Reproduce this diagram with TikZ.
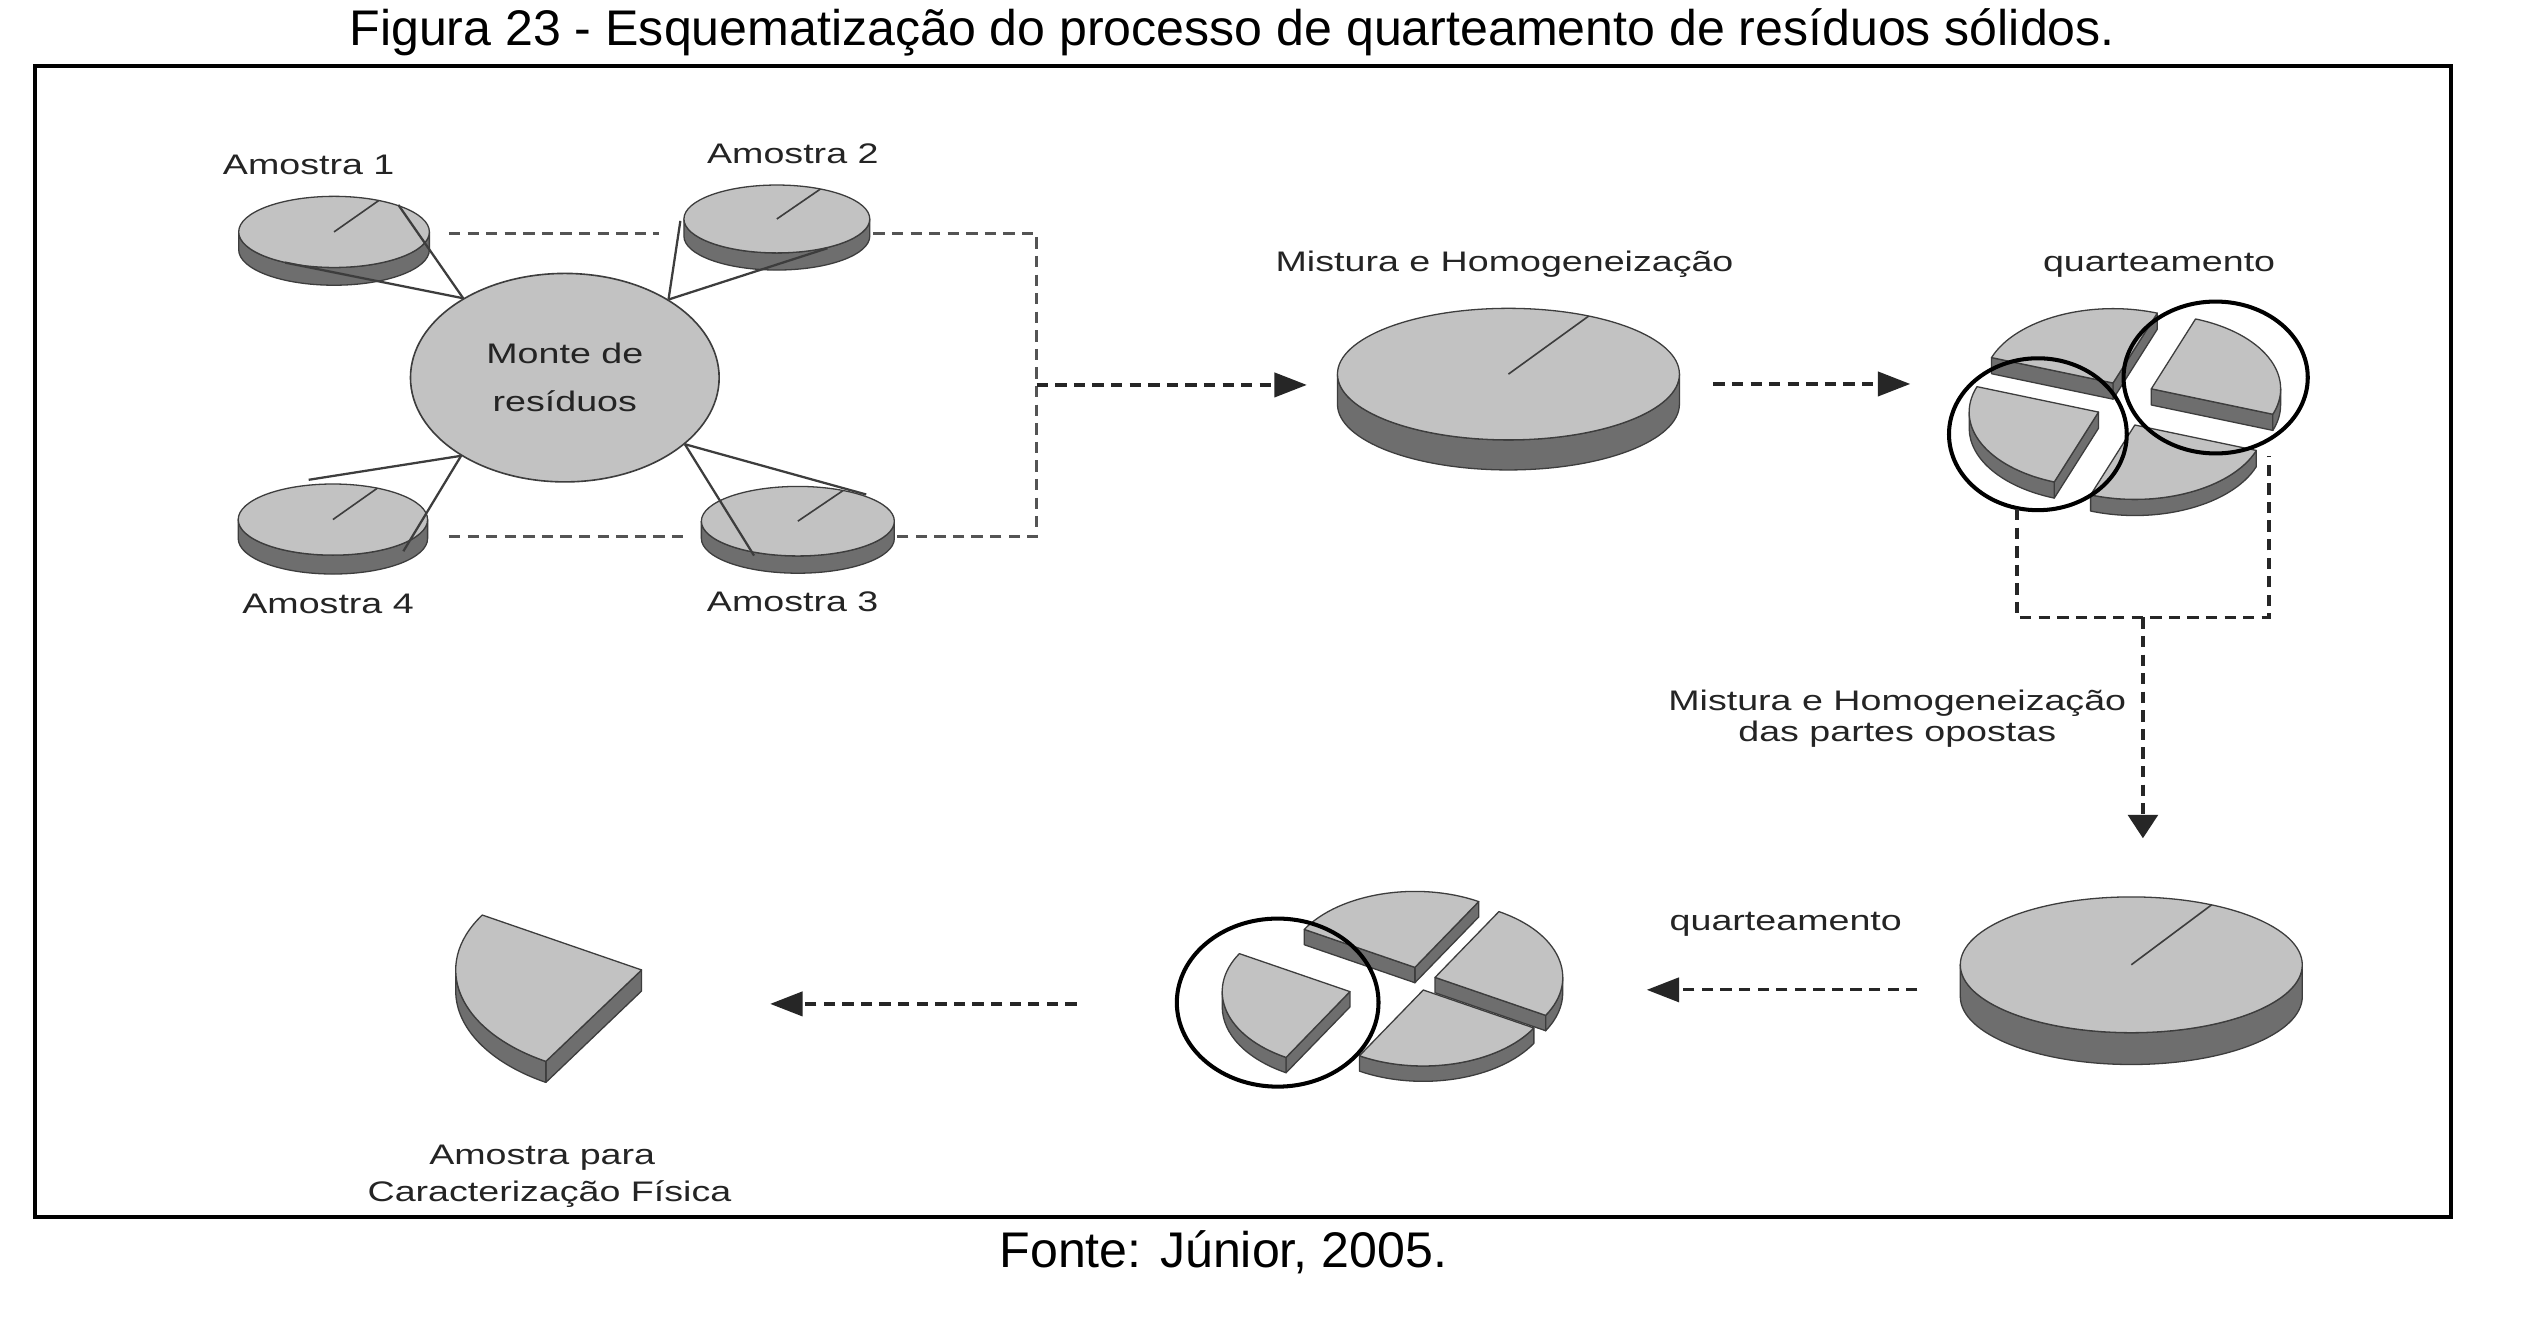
\documentclass[tikz,border=0pt]{standalone}
\usepackage{fontspec}
\setmainfont{Liberation Sans}
\newfontfamily\lblfont[FakeStretch=1.33]{Liberation Sans}
\usetikzlibrary{shapes.geometric,arrows.meta}
\definecolor{topc}{gray}{0.76}
\definecolor{sidec}{gray}{0.43}
\definecolor{edgec}{gray}{0.24}
\definecolor{txtc}{gray}{0.14}
\definecolor{dashc}{gray}{0.15}
\definecolor{dashg}{gray}{0.33}
% full disc: name, cx, cy, rx, ry, h
\newcommand\pdisc[6]{%
  \filldraw[sideface] ({#2-#4},#3) -- ({#2-#4},{#3-#6})
     arc[start angle=180,end angle=360,x radius=#4pt,y radius=#5pt]
     -- ({#2+#4},#3)
     arc[start angle=0,end angle=-180,x radius=#4pt,y radius=#5pt] -- cycle;
  \filldraw[topface] (#2,#3) ellipse[x radius=#4pt,y radius=#5pt];
  \coordinate (#1) at (#2,#3);
  \draw[radline] (#1) -- ++(62:#4pt and #5pt);
}
% slice top: cx cy rx ry a1 a2
\newcommand\slicetop[6]{%
  \filldraw[topface] (#1,#2) -- ({#1+#3*cos(#5)},{#2+#4*sin(#5)})
    arc[start angle=#5,end angle=#6,x radius=#3pt,y radius=#4pt] -- cycle;}
% radial side face: cx cy rx ry h a
\newcommand\sface[6]{%
  \filldraw[sideface] (#1,#2) -- ({#1+#3*cos(#6)},{#2+#4*sin(#6)})
    -- ({#1+#3*cos(#6)},{#2+#4*sin(#6)-#5}) -- (#1,{#2-#5}) -- cycle;}
% rim band: cx cy rx ry h t1 t2
\newcommand\sband[7]{%
  \filldraw[sideface] ({#1+#3*cos(#6)},{#2+#4*sin(#6)})
    arc[start angle=#6,end angle=#7,x radius=#3pt,y radius=#4pt] -- ++(0,-#5)
    arc[start angle=#7,end angle=#6,x radius=#3pt,y radius=#4pt] -- cycle;}
\begin{document}
\begin{tikzpicture}[x=1pt,y=1pt,
  topface/.style={fill=topc,draw=edgec,line width=0.8pt,line join=round},
  sideface/.style={fill=sidec,draw=edgec,line width=0.8pt,line join=round},
  radline/.style={draw=edgec,line width=1pt},
  spoke/.style={draw=edgec,line width=1.4pt},
  dashline/.style={draw=dashc,line width=2pt,dash pattern=on 7pt off 4.5pt},
  grayline/.style={dashline,draw=dashg},
  harrow/.style={dashline,-{Triangle[length=20pt,width=15pt]}},
  varrow/.style={dashline,-{Triangle[length=14.5pt,width=18.5pt]}},
  ring/.style={draw=black,line width=2.5pt},
  lbl/.style={font=\lblfont\fontsize{17.5}{21}\selectfont,text=txtc,inner sep=0pt},
  big/.style={font=\fontsize{31}{36}\selectfont,text=black,inner sep=0pt}
]
\useasboundingbox (0,0) rectangle (1568,830);
\fill[white] (0,0) rectangle (1568,830);

% title, frame, source
\node[big,anchor=base] (title) at (762.5,802) {Figura 23 - Esquematização do processo de quarteamento de resíduos sólidos.};
\draw[line width=2.4pt] (21.7,77) rectangle (1516.5,789);
\node[big,anchor=base] (fonte) at (757,46) {Fonte: Júnior, 2005.};

% samples
\pdisc{d1}{206.7}{686.5}{59}{22}{11}
\pdisc{d2}{480.7}{694.5}{57.5}{21}{10.6}
\pdisc{d4}{206}{508.5}{58.6}{22}{11.7}
\pdisc{d3}{493.7}{507.5}{59.7}{21.5}{10.7}

\node[ellipse,fill=topc,draw=edgec,line width=1pt,minimum width=191pt,minimum height=129pt,
      inner sep=0pt,align=center,text=txtc,font=\lblfont\fontsize{17.5}{29.5}\selectfont]
      (monte) at (349.5,596.3) {Monte de\\resíduos};

\coordinate (d1a) at (246.5,703.2); \coordinate (d1b) at (176.4,667.5);
\coordinate (d2a) at (421,693.3);   \coordinate (d2b) at (512,676.4);
\coordinate (d4a) at (191,533.1);   \coordinate (d4b) at (249.6,488.9);
\coordinate (d3a) at (536,524);     \coordinate (d3b) at (466.6,486.2);
\draw[spoke] (monte.142) -- (d1a);
\draw[spoke] (monte.142) -- (d1b);
\draw[spoke] (monte.37) -- (d2a);
\draw[spoke] (monte.37) -- (d2b);
\draw[spoke] (monte.217.5) -- (d4a);
\draw[spoke] (monte.217.5) -- (d4b);
\draw[spoke] (monte.331.6) -- (d3a);
\draw[spoke] (monte.331.6) -- (d3b);

\node[lbl,anchor=base] (a1) at (191,722.2) {Amostra 1};
\node[lbl,anchor=base] (a2) at (490.6,728.8) {Amostra 2};
\node[lbl,anchor=base] (a4) at (203,450.1) {Amostra 4};
\node[lbl,anchor=base] (a3) at (490.5,451.4) {Amostra 3};

% dashed collectors
\coordinate (e1) at (277.8,685.5); \coordinate (e2) at (408,685.5);
\coordinate (e3) at (540.4,685.5); \coordinate (j1) at (641.5,685.5);
\coordinate (j2) at (641.5,498);   \coordinate (e4) at (553.4,498);
\coordinate (e5) at (277.8,498);   \coordinate (e6) at (423,498);
\coordinate (jm) at (641.5,591.8); \coordinate (mixin) at (808.6,591.8);
\draw[grayline] (e1) -- (e2);
\draw[grayline] (e3) -- (j1) -- (j2) -- (e4);
\draw[grayline] (e5) -- (e6);
\draw[harrow] (jm) -- (mixin);

% mixing disc
\pdisc{mix}{933.4}{598.5}{105.8}{40.7}{18.6}
\node[lbl,anchor=base] (mh1) at (931,662) {Mistura e Homogeneização};
\coordinate (mixout) at (1060.2,592.4); \coordinate (qin) at (1182,592.4);
\draw[harrow] (mixout) -- (qin);

% first quartering (rx 80, ry 46, h 10)
\sface{1307.5}{593}{80}{46}{10}{70}
\sface{1307.5}{593}{80}{46}{10}{160}
\slicetop{1307.5}{593}{80}{46}{70}{160}
\sface{1331.2}{589.4}{80}{46}{10}{340}
\sband{1331.2}{589.4}{80}{46}{10}{340}{360}
\slicetop{1331.2}{589.4}{80}{46}{340}{430}
\sband{1321}{567}{80}{46}{10}{250}{340}
\slicetop{1321}{567}{80}{46}{250}{340}
\sface{1298.5}{575}{80}{46}{10}{250}
\sband{1298.5}{575}{80}{46}{10}{180}{250}
\slicetop{1298.5}{575}{80}{46}{160}{250}
\draw[ring] (1261,561.3) ellipse[x radius=55pt,y radius=47pt];
\draw[ring] (1371,596.4) ellipse[x radius=57pt,y radius=47pt];
\node[lbl,anchor=base] (q1) at (1336,662) {quarteamento};

% opposite parts collected
\coordinate (r1) at (1248,515); \coordinate (r2) at (1248,448);
\coordinate (r3) at (1404,448); \coordinate (r4) at (1404,548);
\coordinate (rm) at (1326,448); \coordinate (din) at (1326,311.3);
\draw[dashline] (r1) -- (r2) -- (r3) -- (r4);
\draw[varrow] (rm) -- (din);
\node[lbl,anchor=base] (mh2a) at (1174,390.6) {Mistura e Homogeneização};
\node[lbl,anchor=base] (mh2b) at (1174,371) {das partes opostas};

% second mixed disc
\pdisc{mix2}{1318.8}{233}{105.8}{42}{19.7}
\node[lbl,anchor=base] (q2) at (1105,254.5) {quarteamento};
\coordinate (m2out) at (1186.5,217.5); \coordinate (q2in) at (1019,217.5);
\draw[harrow] (m2out) -- (q2in);

% second quartering (rx 79, ry 47, h 9.5)
\sface{875.5}{231.4}{79}{47}{9.5}{60}
\sface{875.5}{231.4}{79}{47}{9.5}{150}
\slicetop{875.5}{231.4}{79}{47}{60}{150}
\sface{888}{225.2}{79}{47}{9.5}{330}
\sband{888}{225.2}{79}{47}{9.5}{330}{360}
\slicetop{888}{225.2}{79}{47}{330}{420}
\sband{880.7}{217.4}{79}{47}{9.5}{240}{330}
\slicetop{880.7}{217.4}{79}{47}{240}{330}
\sface{835.3}{216.4}{79}{47}{9.5}{240}
\sband{835.3}{216.4}{79}{47}{9.5}{180}{240}
\slicetop{835.3}{216.4}{79}{47}{150}{240}
\draw[ring] (790.6,209.6) ellipse[x radius=62.4pt,y radius=52pt];
\coordinate (q2out) at (666.2,208.8); \coordinate (fin) at (476.6,208.8);
\draw[harrow] (q2out) -- (fin);

% final sample
\sface{397}{229.8}{115}{66}{13}{239}
\sband{397}{229.8}{115}{66}{13}{180}{239}
\slicetop{397}{229.8}{115}{66}{149}{239}
\node[lbl,anchor=base] (ap1) at (335.5,109.4) {Amostra para};
\node[lbl,anchor=base] (ap2) at (340,86.6) {Caracterização Física};
\end{tikzpicture}
\end{document}
